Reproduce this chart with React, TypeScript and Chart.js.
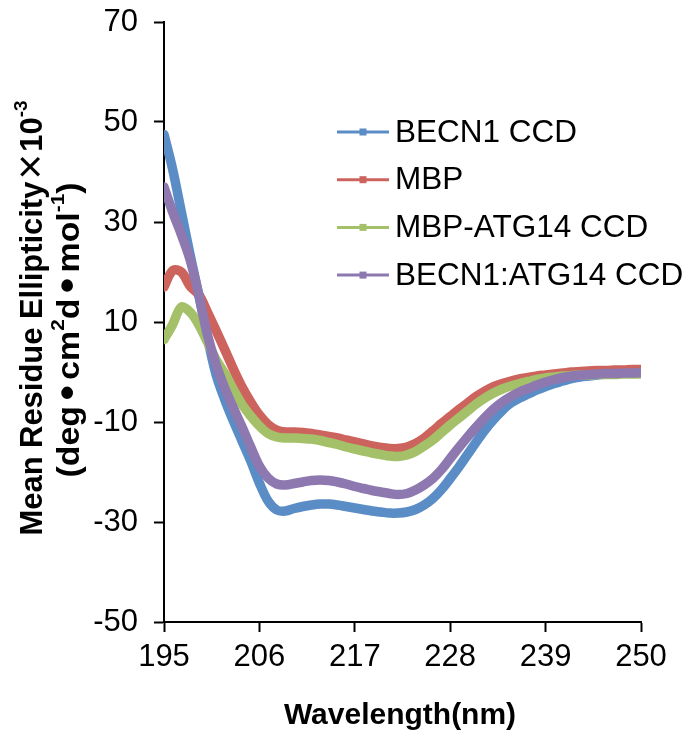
import { useEffect, useRef } from 'react';
import { Chart, registerables } from 'chart.js';

Chart.register(...registerables);

const wavelengths = [
  195, 196, 197, 198, 199, 200, 201, 202, 203, 204,
  205, 206, 207, 208, 209, 210, 211, 212, 213, 214,
  215, 216, 217, 218, 219, 220, 221, 222, 223, 224,
  225, 226, 227, 228, 229, 230, 231, 232, 233, 234,
  235, 236, 237, 238, 239, 240, 241, 242, 243, 244,
  245, 246, 247, 248, 249, 250,
];

const becn1Ccd = [
  47.5, 40.5, 32, 23.5, 15.5, 7, -0.5, -5.5, -9.8, -13.8,
  -17.8, -22.2, -25.8, -27.6, -27.8, -27.3, -26.9, -26.6, -26.4, -26.4,
  -26.6, -26.9, -27.2, -27.5, -27.8, -28, -28.2, -28.2, -28, -27.5,
  -26.6, -25.3, -23.5, -21.3, -19, -16.5, -14, -11.6, -9.5, -7.7,
  -6.2, -5.2, -4.4, -3.6, -2.9, -2.3, -1.8, -1.3, -1, -0.8,
  -0.6, -0.4, -0.3, -0.2, -0.1, 0,
];

const mbp = [
  17, 20.3, 20, 17.2, 15.5, 12, 8.3, 4.5, 0.6, -3,
  -6, -8.6, -10.5, -11.6, -12, -12, -12.1, -12.3, -12.6, -12.9,
  -13.2, -13.6, -14, -14.4, -14.8, -15.1, -15.3, -15.3, -15, -14.3,
  -13.2, -11.8, -10.3, -8.9, -7.5, -6.2, -4.9, -3.8, -2.9, -2.3,
  -1.8, -1.4, -1.1, -0.8, -0.6, -0.4, -0.2, 0, 0.1, 0.2,
  0.3, 0.3, 0.4, 0.4, 0.5, 0.5,
];

const mbpAtg14Ccd = [
  6.5, 9.5, 13, 12, 9.5, 6, 2.5, -0.3, -3.5, -6.5,
  -8.8, -10.8, -12.3, -13, -13.2, -13.2, -13.3, -13.4, -13.7, -14.1,
  -14.5, -15, -15.4, -15.8, -16.2, -16.5, -16.8, -16.9, -16.6, -15.9,
  -14.8, -13.6, -12.1, -10.6, -9.2, -7.8, -6.4, -5.2, -4.2, -3.4,
  -2.8, -2.3, -1.9, -1.5, -1.2, -1, -0.8, -0.7, -0.6, -0.6,
  -0.5, -0.5, -0.5, -0.4, -0.4, -0.4,
];

const becn1Atg14Ccd = [
  37, 32, 27.5, 22.5, 15.5, 7.5, 1.5, -3.2, -7.2, -11,
  -15, -18.8, -21.2, -22.4, -22.6, -22.3, -22, -21.7, -21.6, -21.7,
  -22, -22.4, -22.9, -23.3, -23.7, -24, -24.3, -24.5, -24.3, -23.6,
  -22.6, -21.3, -19.5, -17.3, -15.1, -13, -11, -9.1, -7.4, -6,
  -4.9, -4, -3.3, -2.6, -2, -1.5, -1.1, -0.8, -0.6, -0.5,
  -0.4, -0.3, -0.3, -0.2, -0.2, -0.1,
];

const seriesLabels = ['BECN1 CCD', 'MBP', 'MBP-ATG14 CCD', 'BECN1:ATG14 CCD'];
const seriesColors = ['#5A8CC6', '#CC635D', '#A4C169', '#8D78B0'];
const seriesValues = [becn1Ccd, mbp, mbpAtg14Ccd, becn1Atg14Ccd];

const xTickValues = [195, 206, 217, 228, 239, 250];
const yTickValues = [-50, -30, -10, 10, 30, 50, 70];

const xTitle = 'Wavelength(nm)';

const FONT = '"Liberation Sans", Arial, sans-serif';
const BOLD = `bold 31px ${FONT}`;
const SUP = `bold 19px ${FONT}`;
const TIMES = `44px ${FONT}`;
const BULLET = `bold 40px ${FONT}`;

type Seg = { t: string; font: string; sup?: boolean; slot?: number };

const yTitleLine1: Seg[] = [
  { t: 'Mean Residue Ellipticity', font: BOLD },
  { t: '×', font: TIMES, slot: 30 },
  { t: '10', font: BOLD },
  { t: '-3', font: SUP, sup: true },
];
const yTitleLine2: Seg[] = [
  { t: '(deg', font: BOLD },
  { t: '•', font: BULLET, slot: 24 },
  { t: 'cm', font: BOLD },
  { t: '2', font: SUP, sup: true },
  { t: 'd', font: BOLD },
  { t: '•', font: BULLET, slot: 24 },
  { t: 'mol', font: BOLD },
  { t: '-1', font: SUP, sup: true },
  { t: ')', font: BOLD },
];

function drawRich(ctx: CanvasRenderingContext2D, segs: Seg[], target: number) {
  const inks = segs.map((s) => {
    ctx.font = s.font;
    return ctx.measureText(s.t).width;
  });
  const widths = segs.map((s, i) => (s.slot ? s.slot : inks[i]));
  const total = widths.reduce((a, b) => a + b, 0);
  ctx.scale(target / total, 1);
  let x = -total / 2;
  segs.forEach((s, i) => {
    ctx.font = s.font;
    const off = s.slot ? (s.slot - inks[i]) / 2 : 0;
    ctx.fillText(s.t, x + off, s.sup ? -11 : 0);
    x += widths[i];
  });
}

const decorPlugin = {
  id: 'decor',
  afterDraw(chart: any) {
    const ctx = chart.ctx as CanvasRenderingContext2D;
    ctx.save();
    ctx.fillStyle = '#000';
    // legend
    seriesLabels.forEach((label, i) => {
      const y = 132 + i * 47.7;
      ctx.strokeStyle = seriesColors[i];
      ctx.lineWidth = 3;
      ctx.beginPath();
      ctx.moveTo(337, y);
      ctx.lineTo(389, y);
      ctx.stroke();
      ctx.fillStyle = seriesColors[i];
      ctx.fillRect(363 - 3.5, y - 3.5, 7, 7);
      ctx.fillStyle = '#000';
      ctx.font = `31.5px ${FONT}`;
      ctx.textBaseline = 'middle';
      ctx.textAlign = 'left';
      ctx.fillText(label, 395, y + 1);
    });
    // x title
    ctx.font = `bold 30px ${FONT}`;
    ctx.textAlign = 'center';
    ctx.textBaseline = 'middle';
    ctx.fillText(xTitle, 400, 716);
    // y title
    ctx.textAlign = 'left';
    ctx.textBaseline = 'middle';
    ctx.save();
    ctx.translate(33, 318);
    ctx.rotate(-Math.PI / 2);
    drawRich(ctx, yTitleLine1, 435);
    ctx.restore();
    ctx.save();
    ctx.translate(70, 330);
    ctx.rotate(-Math.PI / 2);
    drawRich(ctx, yTitleLine2, 295);
    ctx.restore();
    ctx.restore();
  },
};

export default function App() {
  const ref = useRef<HTMLCanvasElement | null>(null);
  useEffect(() => {
    if (!ref.current) return;
    const chart = new Chart(ref.current, {
      type: 'line',
      data: {
        datasets: seriesLabels.map((label, i) => ({
          label,
          data: wavelengths.map((w, j) => ({ x: w, y: seriesValues[i][j] })),
          borderColor: seriesColors[i],
          backgroundColor: seriesColors[i],
          borderWidth: 9.5,
          pointRadius: 0,
          tension: 0.35,
          borderCapStyle: 'round' as const,
          borderJoinStyle: 'round' as const,
          order: 4 - i,
          fill: false,
        })),
      },
      options: {
        responsive: false,
        animation: false,
        devicePixelRatio: 1,
        layout: { padding: { left: 0, top: 22, right: 49, bottom: 0 } },
        plugins: { legend: { display: false }, tooltip: { enabled: false } },
        scales: {
          x: {
            type: 'linear',
            min: 195,
            max: 250,
            afterBuildTicks: (s: any) => { s.ticks = xTickValues.map((v) => ({ value: v })); },
            afterFit: (s: any) => { s.height = 118; s.paddingLeft = 0; s.paddingRight = 0; },
            ticks: {
              color: '#000',
              font: { family: FONT, size: 31 },
              padding: 7,
              maxRotation: 0,
              autoSkip: false,
            },
            grid: { drawOnChartArea: false, drawTicks: true, tickLength: 10, tickWidth: 2, tickColor: '#000' },
            border: { display: true, color: '#000', width: 2 },
          },
          y: {
            type: 'linear',
            min: -50,
            max: 70,
            afterBuildTicks: (s: any) => { s.ticks = yTickValues.map((v) => ({ value: v })); },
            afterFit: (s: any) => { s.width = 164; s.paddingTop = 0; s.paddingBottom = 0; },
            ticks: {
              color: '#000',
              font: { family: FONT, size: 31 },
              padding: 16,
              autoSkip: false,
            },
            grid: { drawOnChartArea: false, drawTicks: true, tickLength: 10, tickWidth: 2, tickColor: '#000' },
            border: { display: true, color: '#000', width: 2 },
          },
        },
      },
      plugins: [decorPlugin],
    });
    return () => chart.destroy();
  }, []);
  return (
    <div style={{ position: 'absolute', left: 0, top: 0, width: 690, height: 740, background: '#fff' }}>
      <canvas ref={ref} width={690} height={740} style={{ width: 690, height: 740, display: 'block' }} />
    </div>
  );
}
